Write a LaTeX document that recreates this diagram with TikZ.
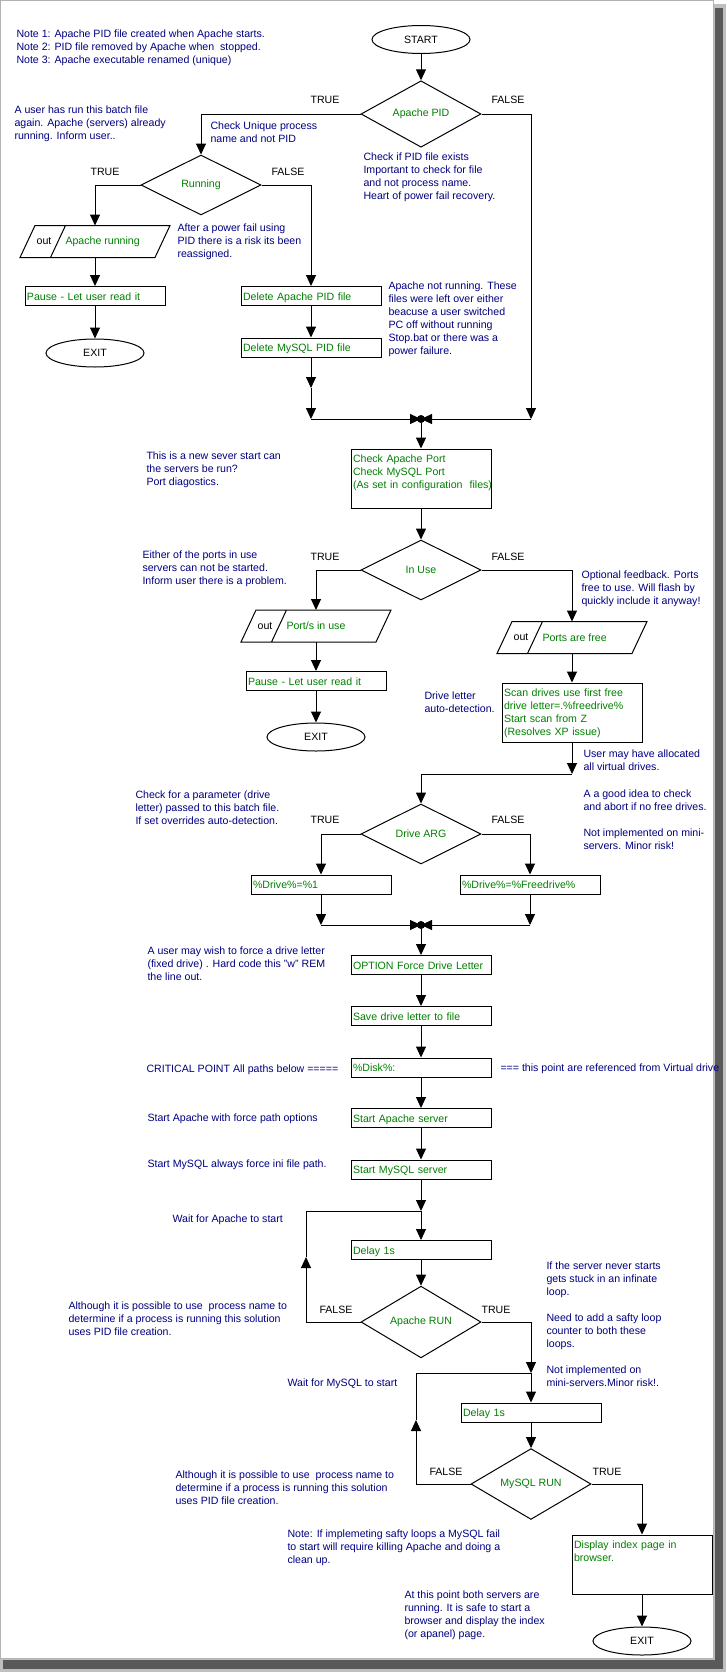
\documentclass[tikz,border=0pt]{standalone}
\usepackage{fontspec}
\setmainfont{Liberation Sans}
\usetikzlibrary{arrows.meta,shapes.geometric}
\definecolor{notecol}{RGB}{0,0,128}
\definecolor{stepcol}{RGB}{0,128,0}

\begin{document}
\begin{tikzpicture}[x=1pt,y=-1pt,
  font=\fontsize{10.6}{13}\selectfont,
  line width=1pt,
  arr/.style={-{Triangle[length=11pt,width=10pt]}},
  note/.style={anchor=base west,align=left,inner sep=0pt,text=notecol},
  proc/.style={draw,rectangle,text width=136pt,inner xsep=2pt,inner ysep=2.5pt,
    text height=11pt,text depth=3pt,align=left,text=stepcol},
  tallproc/.style={proc,text depth=43pt},
  decide/.style={draw,diamond,minimum width=120pt,minimum height=60pt,inner sep=0pt,text=stepcol},
  term/.style={draw,ellipse,minimum width=98pt,minimum height=28pt,inner sep=0pt},
  iobox/.style={rectangle,minimum width=134pt,minimum height=31pt,inner sep=0pt},
  iotext/.style={inner sep=0pt},
  tf/.style={inner sep=0pt}]
  \useasboundingbox (0,0) rectangle (727,1676);

  % frame and its shadow
  \fill[black!25] (711,4) rectangle (726,1672);
  \fill[black!25] (0,1656) rectangle (726,1672);
  \fill[black!65] (715,8) rectangle (723,1669);
  \fill[black!65] (3,1660) rectangle (723,1669);
  \filldraw[fill=white,draw=black!30,line width=0.6pt] (0.5,0.5) rectangle (713,1658);

  % terminals
  \node[term] (start) at (421,39.5) {START};
  \node[term] (exita) at (95,353) {EXIT};
  \node[term] (exitb) at (316,737) {EXIT};
  \node[term] (exitc) at (642,1641) {EXIT};

  % decisions
  \node[decide] (apid) at (421,114) {Apache PID};
  \node[decide] (running) at (201,185) {Running};
  \node[decide] (inuse) at (421,570) {In Use};
  \node[decide] (drvarg) at (421,834) {Drive ARG};
  \node[decide] (aprun) at (421,1322) {Apache RUN};
  \node[decide] (myrun) at (531,1484) {MySQL RUN};

  % process boxes
  \node[proc] (pausea) at (95,296) {Pause - Let user read it};
  \node[proc] (delap) at (311,296) {Delete Apache PID file};
  \node[proc] (delmy) at (311,347.5) {Delete MySQL PID file};
  \node[tallproc] (ports) at (421,478.5) {Check Apache Port\\Check MySQL Port\\\mbox{(As set in configuration~ files)}};
  \node[proc] (pauseb) at (316,681) {Pause - Let user read it};
  \node[tallproc] (scan) at (572,712.5) {Scan drives use first free\\drive letter=.\%freedrive\%\\Start scan from Z\\(Resolves XP issue)};
  \node[proc] (drvone) at (321,884.5) {\%Drive\%=\%1};
  \node[proc] (drvfree) at (530,884.5) {\%Drive\%=\%Freedrive\%};
  \node[proc] (force) at (421,965) {OPTION Force Drive Letter};
  \node[proc] (save) at (421,1016) {Save drive letter to file};
  \node[proc] (disk) at (421,1067.5) {\%Disk\%:};
  \node[proc] (stap) at (421,1118) {Start Apache server};
  \node[proc] (stmy) at (421,1169.5) {Start MySQL server};
  \node[proc] (delaya) at (421,1250) {Delay 1s};
  \node[proc] (delayb) at (531,1412.5) {Delay 1s};
  \node[tallproc] (index) at (642,1564.5) {Display index page in\\browser.};

  % output boxes
  \node[iobox] (apout) at (95,241.5) {};
  \node[iobox] (portout) at (316,626) {};
  \node[iobox] (freeout) at (572,637.5) {};
  \foreach \b in {apout,portout,freeout}
    \draw ([xshift=7.5pt]\b.north west) -- ([xshift=7.5pt]\b.north east)
      -- ([xshift=-7.5pt]\b.south east) -- ([xshift=-7.5pt]\b.south west) -- cycle
      ([xshift=38pt]\b.north west) -- ([xshift=23pt]\b.south west);
  \node[iotext] (apoutk) at (44,241.5) {out};
  \node[iotext,anchor=west,text=stepcol] (apoutt) at (65,241.5) {Apache running};
  \node[iotext] (portoutk) at (265,626) {out};
  \node[iotext,anchor=west,text=stepcol] (portoutt) at (286,626) {Port/s in use};
  \node[iotext] (freeoutk) at (521,637.5) {out};
  \node[iotext,anchor=west,text=stepcol] (freeoutt) at (542,637.5) {Ports are free};

  % junction points
  \coordinate (jamid) at (311,388);
  \coordinate (jal) at (311,419);
  \coordinate (ja) at (421,419);
  \coordinate (jar) at (531,419);
  \coordinate (jb) at (572,774);
  \coordinate (jcl) at (321,925);
  \coordinate (jc) at (421,925);
  \coordinate (jcr) at (530,925);
  \coordinate (jd) at (421,1211);
  \coordinate (loopa) at (306,1257);
  \coordinate (je) at (531,1373);
  \coordinate (loopb) at (416,1420);

  % connectors
  \draw[arr] (start) -- (apid);
  \draw[arr] (apid.west) -| (running.north);
  \draw[arr] (running.west) -| (apout.north);
  \draw[arr] (running.east) -| (delap.north);
  \draw[arr] (apout) -- (pausea);
  \draw[arr] (pausea) -- (exita);
  \draw[arr] (delap) -- (delmy);
  \draw[arr] (delmy) -- (jamid);
  \draw[arr] (jamid) -- (jal);
  \draw[arr] (apid.east) -| (jar);
  \draw[arr] (jal) -- (ja);
  \draw[arr] (jar) -- (ja);
  \fill (ja) circle (4pt);
  \draw[arr] (ja) -- (ports);
  \draw[arr] (ports) -- (inuse);
  \draw[arr] (inuse.west) -| (portout.north);
  \draw[arr] (inuse.east) -| (freeout.north);
  \draw[arr] (portout) -- (pauseb);
  \draw[arr] (pauseb) -- (exitb);
  \draw[arr] (freeout) -- (scan);
  \draw[arr] (scan) -- (jb);
  \draw[arr] (jb) -| (drvarg.north);
  \draw[arr] (drvarg.west) -| (drvone.north);
  \draw[arr] (drvarg.east) -| (drvfree.north);
  \draw[arr] (drvone) -- (jcl);
  \draw[arr] (drvfree) -- (jcr);
  \draw[arr] (jcl) -- (jc);
  \draw[arr] (jcr) -- (jc);
  \fill (jc) circle (4pt);
  \draw[arr] (jc) -- (force);
  \draw[arr] (force) -- (save);
  \draw[arr] (save) -- (disk);
  \draw[arr] (disk) -- (stap);
  \draw[arr] (stap) -- (stmy);
  \draw[arr] (stmy) -- (jd);
  \draw[arr] (jd) -- (delaya);
  \draw[arr] (delaya) -- (aprun);
  \draw[arr] (aprun.west) -| (loopa);
  \draw (loopa) |- (jd);
  \draw[arr] (aprun.east) -| (je);
  \draw[arr] (je) -- (delayb);
  \draw[arr] (delayb) -- (myrun);
  \draw[arr] (myrun.west) -| (loopb);
  \draw (loopb) |- (je);
  \draw[arr] (myrun.east) -| (index.north);
  \draw[arr] (index) -- (exitc);

  % branch labels
  \node[tf] (apidt) at (325,100) {TRUE};
  \node[tf] (apidf) at (508,100) {FALSE};
  \node[tf] (runt) at (105,172) {TRUE};
  \node[tf] (runf) at (288,172) {FALSE};
  \node[tf] (inuset) at (325,557) {TRUE};
  \node[tf] (inusef) at (508,557) {FALSE};
  \node[tf] (drvt) at (325,820) {TRUE};
  \node[tf] (drvf) at (508,820) {FALSE};
  \node[tf] (aprunf) at (336,1310) {FALSE};
  \node[tf] (aprunt) at (496,1310) {TRUE};
  \node[tf] (myrunf) at (446,1472) {FALSE};
  \node[tf] (myrunt) at (607,1472) {TRUE};

  % comments beside the flow (placed by the baseline of their last line)
  \node[note] (notes) at (16,63) {Note 1: Apache PID file created when Apache starts.\\Note 2: PID file removed by Apache when~ stopped.\\Note 3: Apache executable renamed (unique)};
  \node[note] (usrrun) at (14,139) {A user has run this batch file\\again. Apache (servers) already\\running. Inform user..};
  \node[note] (uniq) at (210,142) {Check Unique process\\name and not PID};
  \node[note] (pidchk) at (363,199) {Check if PID file exists\\Important to check for file\\and not process name.\\Heart of power fail recovery.};
  \node[note] (pwrfail) at (177,257) {After a power fail using\\PID there is a risk its been\\reassigned.};
  \node[note] (leftover) at (388,354) {Apache not running. These\\files were left over either\\beacuse a user switched\\PC off without running\\Stop.bat or there was a\\power failure.};
  \node[note] (newstart) at (146,485) {This is a new sever start can\\the servers be run?\\Port diagostics.};
  \node[note] (portuse) at (142,584) {Either of the ports in use\\servers can not be started.\\Inform user there is a problem.};
  \node[note] (feedback) at (581,604) {Optional feedback. Ports\\free to use. Will flash by\\quickly include it anyway!};
  \node[note] (drvdet) at (424,712) {Drive letter\\auto-detection.};
  \node[note] (alloc) at (583,770) {User may have allocated\\all virtual drives.};
  \node[note] (idea) at (583,810) {A a good idea to check\\and abort if no free drives.};
  \node[note] (notimpa) at (583,849) {Not implemented on mini-\\servers. Minor risk!};
  \node[note] (param) at (135,824) {Check for a parameter (drive\\letter) passed to this batch file.\\If set overrides auto-detection.};
  \node[note] (fixdrv) at (147,980) {A user may wish to force a drive letter\\(fixed drive) . Hard code this "w" REM\\the line out.};
  \node[note] (critl) at (146,1072) {CRITICAL POINT All paths below =====};
  \node[note] (critr) at (500,1071) {=== this point are referenced from Virtual drive};
  \node[note] (apopt) at (147,1121) {Start Apache with force path options};
  \node[note] (myopt) at (147,1167) {Start MySQL always force ini file path.};
  \node[note] (waitap) at (172,1222) {Wait for Apache to start};
  \node[note] (stuck) at (546,1295) {If the server never starts\\gets stuck in an infinate\\loop.};
  \node[note] (safty) at (546,1347) {Need to add a safty loop\\counter to both these\\loops.};
  \node[note] (notimpb) at (546,1386) {Not implemented on\\mini-servers.Minor risk!.};
  \node[note] (procap) at (68,1335) {Although it is possible to use~ process name to\\determine if a process is running this solution\\uses PID file creation.};
  \node[note] (waitmy) at (287,1386) {Wait for MySQL to start};
  \node[note] (procmy) at (175,1504) {Although it is possible to use~ process name to\\determine if a process is running this solution\\uses PID file creation.};
  \node[note] (killap) at (287,1563) {Note: If implemeting safty loops a MySQL fail\\to start will require killing Apache and doing a\\clean up.};
  \node[note] (bothrun) at (404,1637) {At this point both servers are\\running. It is safe to start a\\browser and display the index\\(or apanel) page.};
\end{tikzpicture}
\end{document}
